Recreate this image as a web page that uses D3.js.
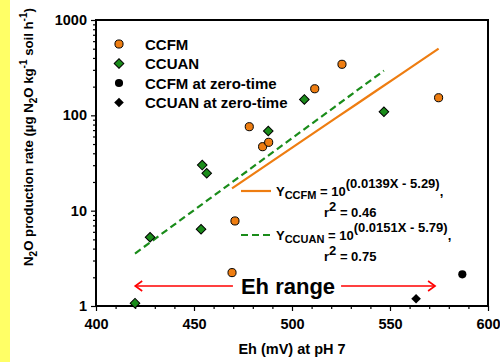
<!DOCTYPE html>
<html>
<head>
<meta charset="utf-8">
<script src="https://cdn.jsdelivr.net/npm/d3@7"></script>
<style>
  body { margin: 0; background: #fff; }
  text { font-family: Arial, "Liberation Sans", sans-serif; font-weight: bold; fill: #000; }
</style>
</head>
<body>
<svg id="chart" width="500" height="362"></svg>
<script>
// CCFM samples (Eh in mV, N2O rate)
const ccfmEh = [469.4, 470.9, 478.2, 485.0, 488.1, 511.6, 525.5, 574.8];
const ccfmRate = [2.24, 7.8, 76, 46.9, 52.1, 190, 343, 153];
// CCUAN samples
const ccuanEh = [419.9, 427.6, 453.6, 454.2, 456.5, 487.9, 506.3, 546.9];
const ccuanRate = [1.07, 5.26, 6.38, 30.1, 24.7, 68.5, 147, 109];
// zero-time samples: [CCFM, CCUAN]
const zeroEh = [586.9, 563.3];
const zeroRate = [2.15, 1.19];
// regression fits Y = 10^(a*X + b): [CCFM, CCUAN]
const fitSlope = [0.0139, 0.0151];
const fitIntercept = [-5.29, -5.79];
const fitR2 = ["0.46", "0.75"];
// axis ticks
const xMajorTicks = [400, 450, 500, 550, 600];
const yMajorTicks = [1, 10, 100, 1000];
const legendLabels = ["CCFM", "CCUAN", "CCFM at zero-time", "CCUAN at zero-time"];
const ehRange = [420, 573];

const orange = "#EE7D11";
const green = "#1A8C1A";

const svg = d3.select("#chart");

// yellow strip at the left edge
svg.append("rect").attr("x", 0).attr("y", 0).attr("width", 10).attr("height", 362).attr("fill", "#FFFF66");

const x = d3.scaleLinear().domain([400, 600]).range([96, 488]);
const y = d3.scaleLog().domain([1, 1000]).range([306, 20]);

// minor ticks
const xMinorTicks = d3.range(400, 601, 10).filter(v => !xMajorTicks.includes(v));
const yMinorTicks = [];
[1, 10, 100].forEach(dec => { for (let k = 2; k <= 9; k++) yMinorTicks.push(dec * k); });

const styleAxis = g => {
  g.select(".domain").remove();
  g.selectAll("line").attr("stroke", "#000").attr("stroke-width", 1.2);
};

svg.append("g")
  .attr("transform", "translate(0,306)")
  .call(d3.axisBottom(x).tickValues(xMinorTicks).tickSize(3).tickFormat(""))
  .call(styleAxis);
svg.append("g")
  .attr("transform", "translate(0,306)")
  .call(d3.axisBottom(x).tickValues(xMajorTicks).tickSize(5).tickPadding(8).tickFormat(d3.format("d")))
  .call(styleAxis)
  .selectAll("text").attr("font-size", "14.5px").attr("font-family", "Arial, 'Liberation Sans', sans-serif").attr("font-weight", "bold").attr("fill", "#000");

svg.append("g")
  .attr("transform", "translate(96,0)")
  .call(d3.axisLeft(y).tickValues(yMinorTicks).tickSize(3).tickFormat(""))
  .call(styleAxis);
svg.append("g")
  .attr("transform", "translate(96,0)")
  .call(d3.axisLeft(y).tickValues(yMajorTicks).tickSize(5).tickPadding(4).tickFormat(d3.format("d")))
  .call(styleAxis)
  .selectAll("text").attr("font-size", "14.5px").attr("font-family", "Arial, 'Liberation Sans', sans-serif").attr("font-weight", "bold").attr("fill", "#000");

// frame
svg.append("rect")
  .attr("x", 96).attr("y", 20).attr("width", 392).attr("height", 286)
  .attr("fill", "none").attr("stroke", "#000").attr("stroke-width", 2);

// axis titles
svg.append("text")
  .attr("x", 292).attr("y", 354)
  .attr("text-anchor", "middle").attr("font-size", "14.5px")
  .text("Eh (mV) at pH 7");

// rich text helper: parts as [text, "n" | "sub" | "sup"]
const richText = (sel, parts, size, subSize, subShift, supShift) => {
  let state = "n";
  parts.forEach(([t, kind]) => {
    let dy = 0;
    if (state !== kind) {
      if (state === "sub") dy -= subShift;
      if (state === "sup") dy += supShift;
      if (kind === "sub") dy += subShift;
      if (kind === "sup") dy -= supShift;
    }
    sel.append("tspan")
      .attr("dy", dy)
      .attr("font-size", (kind === "n" ? size : subSize) + "px")
      .text(t);
    state = kind;
  });
};

const yTitle = svg.append("text")
  .attr("transform", "translate(33,137) rotate(-90)")
  .attr("text-anchor", "middle");
richText(yTitle, [["N", "n"], ["2", "sub"], ["O production rate (\u00b5g N", "n"], ["2", "sub"],
  ["O kg", "n"], ["-1", "sup"], [" soil h", "n"], ["-1", "sup"], [")", "n"]], 13.2, 10, 4, 6);

// regression lines over each series' Eh range
const line = d3.line().x(d => x(d[0])).y(d => y(d[1]));
const fitPoints = (i, ehs) => {
  const [lo, hi] = d3.extent(ehs);
  return d3.range(0, 11).map(k => {
    const e = lo + (hi - lo) * k / 10;
    return [e, Math.pow(10, fitSlope[i] * e + fitIntercept[i])];
  });
};
svg.append("path").attr("d", line(fitPoints(0, ccfmEh)))
  .attr("fill", "none").attr("stroke", orange).attr("stroke-width", 2.2);
svg.append("path").attr("d", line(fitPoints(1, ccuanEh)))
  .attr("fill", "none").attr("stroke", green).attr("stroke-width", 2.2).attr("stroke-dasharray", "7,4");

// markers
const circleSym = d3.symbol(d3.symbolCircle, 52);
const diamondSym = d3.symbol(d3.symbolSquare, 46);

svg.append("g").selectAll("path")
  .data(d3.zip(ccuanEh, ccuanRate))
  .join("path")
  .attr("d", diamondSym)
  .attr("transform", d => `translate(${x(d[0])},${y(d[1])}) rotate(45)`)
  .attr("fill", green).attr("stroke", "#000").attr("stroke-width", 1);

svg.append("g").selectAll("path")
  .data(d3.zip(ccfmEh, ccfmRate))
  .join("path")
  .attr("d", circleSym)
  .attr("transform", d => `translate(${x(d[0])},${y(d[1])})`)
  .attr("fill", orange).attr("stroke", "#000").attr("stroke-width", 1);

svg.append("path").attr("d", circleSym)
  .attr("transform", `translate(${x(zeroEh[0])},${y(zeroRate[0])})`).attr("fill", "#000");
svg.append("path").attr("d", diamondSym)
  .attr("transform", `translate(${x(zeroEh[1])},${y(zeroRate[1])}) rotate(45)`).attr("fill", "#000");

// legend
const legendFill = [orange, green, "#000", "#000"];
const legend = svg.append("g").selectAll("g")
  .data(legendLabels)
  .join("g")
  .attr("transform", (d, i) => `translate(119,${44 + i * 19.5})`);
legend.append("path")
  .attr("d", (d, i) => (i % 2 === 0 ? circleSym : diamondSym)())
  .attr("transform", (d, i) => i % 2 === 0 ? "" : "rotate(45)")
  .attr("fill", (d, i) => legendFill[i])
  .attr("stroke", (d, i) => i < 2 ? "#000" : "none");
legend.append("text")
  .attr("x", 26).attr("y", 5.5)
  .attr("font-size", "15px")
  .text(d => d);

// equations
const eqs = [
  { sub: "CCFM", color: orange, dash: null, lineY: 191, baseY: 196 },
  { sub: "CCUAN", color: green, dash: "7,4", lineY: 235, baseY: 240 }
];
eqs.forEach((eq, i) => {
  svg.append("line")
    .attr("x1", 241).attr("x2", 271).attr("y1", eq.lineY).attr("y2", eq.lineY)
    .attr("stroke", eq.color).attr("stroke-width", 2.2)
    .attr("stroke-dasharray", eq.dash);
  const t = svg.append("text").attr("x", 276).attr("y", eq.baseY);
  const a = fitSlope[i].toFixed(4), b = Math.abs(fitIntercept[i]).toFixed(2);
  richText(t, [["Y", "n"], [eq.sub, "sub"], [" = 10", "n"], [`(${a}X - ${b})`, "sup"], [",", "n"]], 13, 11, 2.5, 8);
  t.selectAll("tspan").filter((d, k) => k === 3).attr("font-size", "13px");
  const r = svg.append("text").attr("x", 324).attr("y", eq.baseY + 21);
  richText(r, [["r", "n"], ["2", "sup"], [" = " + fitR2[i], "n"]], 13, 13, 0, 6);
});

// Eh range annotation
const arrowY = 286;
const rangeText = svg.append("text")
  .attr("x", 288).attr("y", 293.5)
  .attr("text-anchor", "middle").attr("font-size", "22px")
  .text("Eh range");
const bb = rangeText.node().getBBox();
const red = "#FF0000";
svg.append("line").attr("x1", x(ehRange[0])).attr("x2", bb.x - 8).attr("y1", arrowY).attr("y2", arrowY)
  .attr("stroke", red).attr("stroke-width", 1.6);
svg.append("line").attr("x1", bb.x + bb.width + 6).attr("x2", x(ehRange[1])).attr("y1", arrowY).attr("y2", arrowY)
  .attr("stroke", red).attr("stroke-width", 1.6);
svg.append("path")
  .attr("d", `M${x(ehRange[0]) + 7},${arrowY - 5}L${x(ehRange[0])},${arrowY}L${x(ehRange[0]) + 7},${arrowY + 5}`)
  .attr("fill", "none").attr("stroke", red).attr("stroke-width", 1.6);
svg.append("path")
  .attr("d", `M${x(ehRange[1]) - 7},${arrowY - 5}L${x(ehRange[1])},${arrowY}L${x(ehRange[1]) - 7},${arrowY + 5}`)
  .attr("fill", "none").attr("stroke", red).attr("stroke-width", 1.6);
</script>
</body>
</html>
